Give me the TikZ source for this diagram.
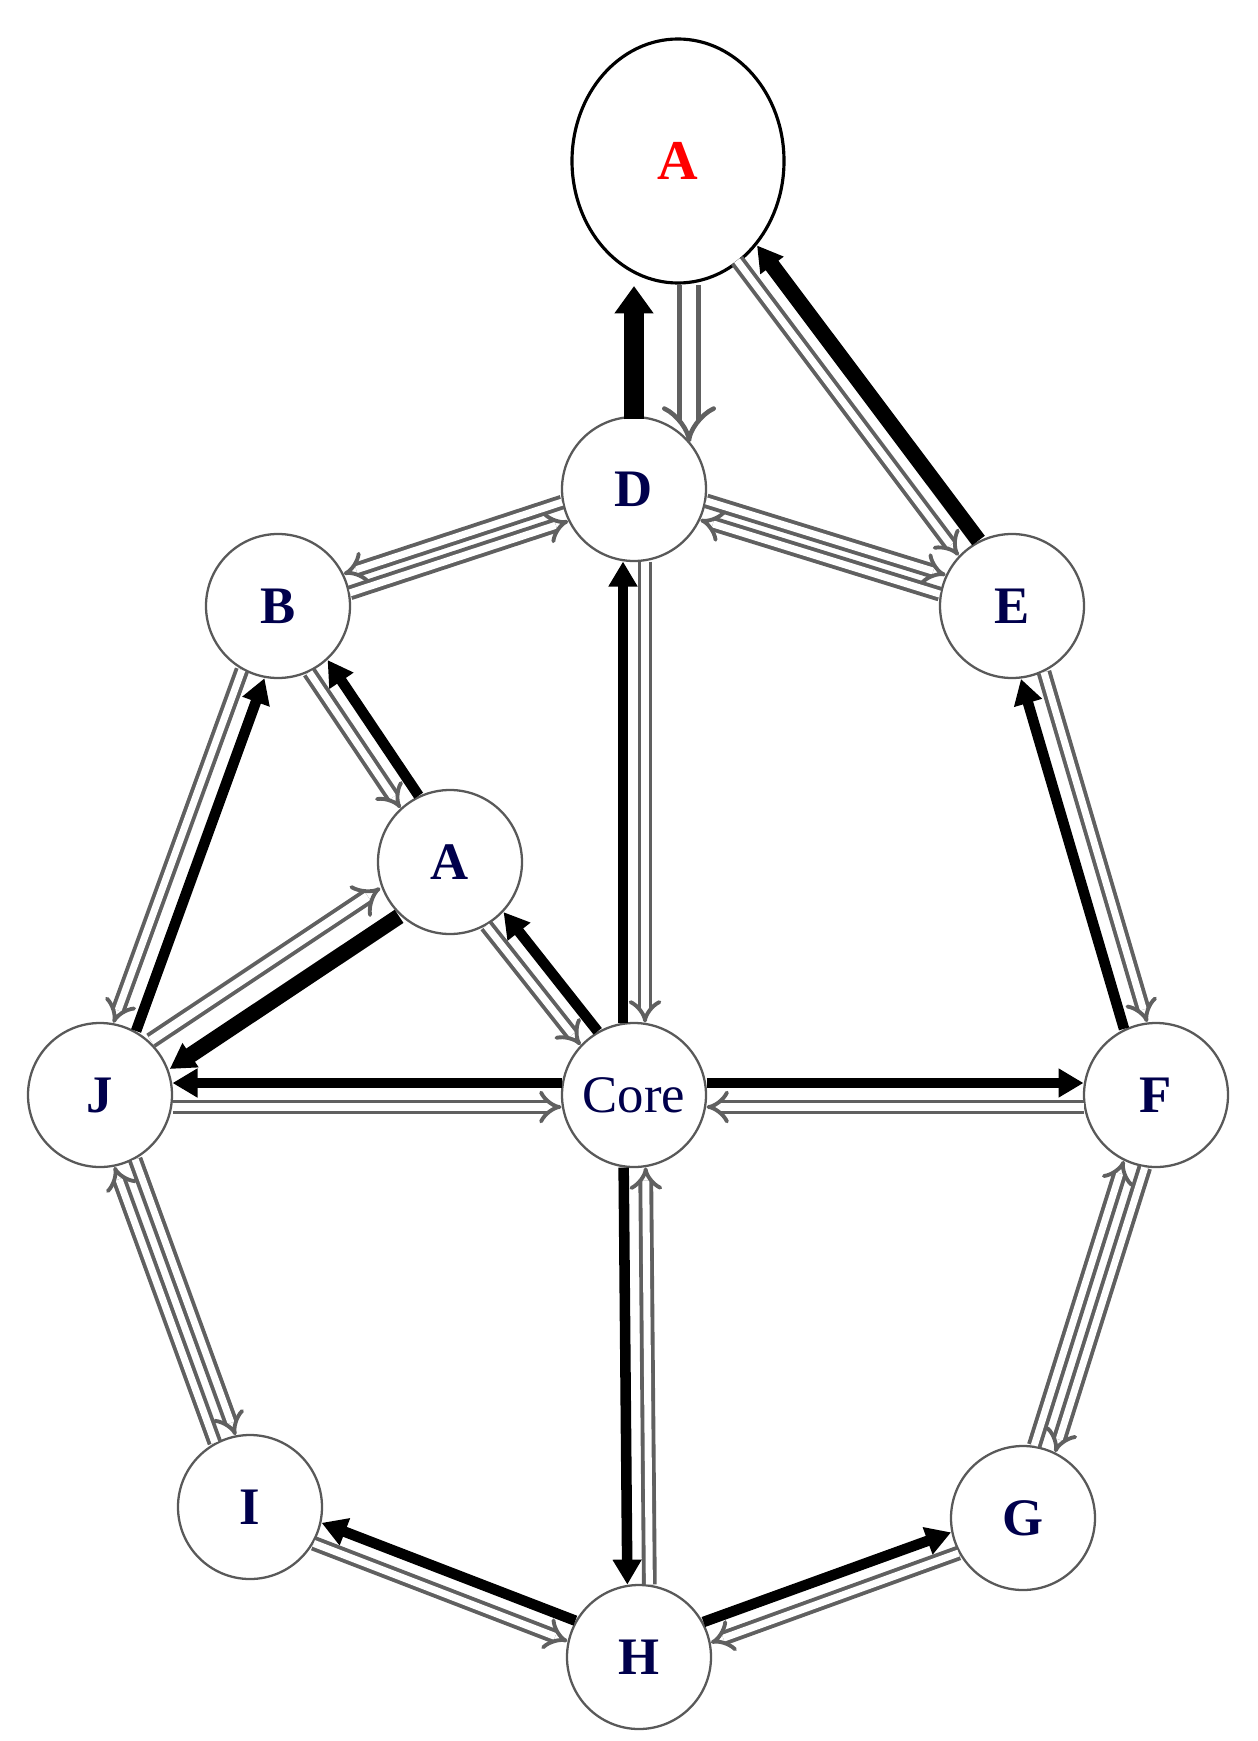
\documentclass[tikz,border=0pt]{standalone}
\usepackage{fontspec}
\setmainfont{Liberation Serif}
\usetikzlibrary{arrows.meta,calc,shapes.geometric}
\newcommand\edgearr[6]{\draw[#1, shorten <=#5, shorten >=#6] ($(#2)!#4!90:(#3)$) -- ($(#3)!#4!-90:(#2)$);}
\tikzset{
  nd/.style={circle,draw=gray!70!black,line width=1.3pt,minimum size=2.88cm,inner sep=0pt,fill=white,font=\fontsize{30}{36}\selectfont\bfseries,text=blue!30!black},
  blk/.style={line width=6pt,-{Triangle[length=0.5cm,width=0.55cm]}},
  gar/.style={draw=gray!75!black,double=white,line width=2.2pt,double distance=4pt,-{Implies}},
}
\begin{document}
\begin{tikzpicture}
\useasboundingbox (0,0) rectangle (25.14,-34.82);
\node[ellipse,draw,line width=1.8pt,minimum width=4.24cm,minimum height=4.88cm,inner sep=0pt,font=\fontsize{32}{38}\selectfont\bfseries,text=red] (At) at (13.56,-3.22) {A};
\node[nd] (D) at (12.68,-9.78) {D};
\node[nd] (B) at (5.56,-12.12) {B};
\node[nd] (E) at (20.24,-12.12) {E};
\node[nd] (As) at (9.0,-17.24) {A};
\node[nd] (J) at (2.0,-21.9) {J};
\node[nd,font=\fontsize{30}{36}\selectfont] (C) at (12.68,-21.9) {Core};
\node[nd] (F) at (23.12,-21.9) {F};
\node[nd] (I) at (5.0,-30.14) {I};
\node[nd] (G) at (20.46,-30.36) {G};
\node[nd] (H) at (12.78,-33.14) {H};
% top
\coordinate (dtop) at (D.north);
\coordinate (atb) at (12.68,-5.72);
\coordinate (ags) at (13.78,-5.7);
\coordinate (dge) at ($(D)+(1.1,0.93)$);
\draw[line width=11pt,-{Triangle[length=0.55cm,width=0.75cm]},shorten <=-2pt] (dtop) -- (atb);
\draw[gar,line width=2.6pt,double distance=8pt,-{Implies[length=0.25cm]}] (ags) -- (dge);
\edgearr{blk,line width=9pt}{E}{At}{-0.25cm}{1.45cm}{2.3cm}
\edgearr{gar}{At}{E}{-0.25cm}{2.3cm}{1.45cm}
% ring
\edgearr{gar}{B}{D}{-0.2cm}{1.45cm}{1.45cm}
\edgearr{gar}{D}{B}{-0.2cm}{1.45cm}{1.45cm}
\edgearr{gar}{D}{E}{0.2cm}{1.45cm}{1.45cm}
\edgearr{gar}{E}{D}{0.2cm}{1.45cm}{1.45cm}
\edgearr{gar}{B}{J}{-0.24cm}{1.45cm}{1.45cm}
\edgearr{blk}{J}{B}{-0.24cm}{1.45cm}{1.45cm}
\edgearr{gar}{B}{As}{-0.22cm}{1.45cm}{1.45cm}
\edgearr{blk}{As}{B}{-0.22cm}{1.45cm}{1.45cm}
\edgearr{gar,double distance=5pt}{J}{As}{0.34cm}{1.45cm}{1.45cm}
\edgearr{blk,line width=9pt}{As}{J}{0.34cm}{1.45cm}{1.45cm}
\edgearr{gar}{As}{C}{-0.22cm}{1.45cm}{1.45cm}
\edgearr{blk}{C}{As}{-0.22cm}{1.45cm}{1.45cm}
\edgearr{blk}{C}{D}{0.22cm}{1.45cm}{1.45cm}
\edgearr{gar}{D}{C}{0.22cm}{1.45cm}{1.45cm}
\edgearr{blk}{C}{J}{-0.24cm}{1.45cm}{1.45cm}
\edgearr{gar}{J}{C}{-0.24cm}{1.45cm}{1.45cm}
\edgearr{blk}{C}{F}{0.24cm}{1.45cm}{1.45cm}
\edgearr{gar}{F}{C}{0.24cm}{1.45cm}{1.45cm}
\edgearr{blk}{F}{E}{0.24cm}{1.45cm}{1.45cm}
\edgearr{gar}{E}{F}{0.24cm}{1.45cm}{1.45cm}
\edgearr{blk}{C}{H}{-0.22cm}{1.45cm}{1.45cm}
\edgearr{gar}{H}{C}{-0.22cm}{1.45cm}{1.45cm}
\edgearr{gar}{J}{I}{0.22cm}{1.45cm}{1.45cm}
\edgearr{gar}{I}{J}{0.22cm}{1.45cm}{1.45cm}
\edgearr{gar}{F}{G}{0.22cm}{1.45cm}{1.45cm}
\edgearr{gar}{G}{F}{0.22cm}{1.45cm}{1.45cm}
\edgearr{blk}{H}{I}{-0.22cm}{1.45cm}{1.45cm}
\edgearr{gar}{I}{H}{-0.22cm}{1.45cm}{1.45cm}
\edgearr{blk}{H}{G}{0.22cm}{1.45cm}{1.45cm}
\edgearr{gar}{G}{H}{0.22cm}{1.45cm}{1.45cm}
\end{tikzpicture}
\end{document}
